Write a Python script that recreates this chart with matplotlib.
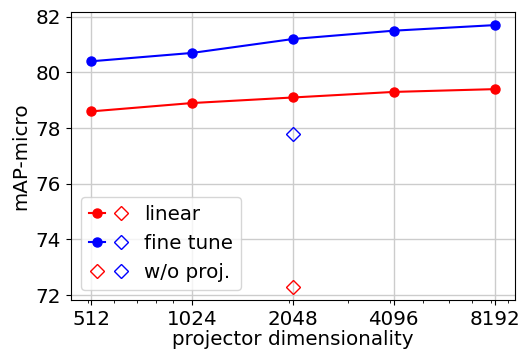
import matplotlib
matplotlib.use('Agg')
import matplotlib.pyplot as plt
from matplotlib.legend_handler import HandlerTuple
from matplotlib.ticker import LogLocator, NullFormatter

dims = [512, 1024, 2048, 4096, 8192]
linear = [78.6, 78.9, 79.1, 79.3, 79.4]
finetune = [80.4, 80.7, 81.2, 81.5, 81.7]
noproj_dim = 2048
noproj_linear = 72.3
noproj_finetune = 77.8

plt.rcParams['font.size'] = 14.3

fig, ax = plt.subplots(figsize=(5.21, 3.54), dpi=100)
fig.subplots_adjust(left=0.136, right=0.988, top=0.966, bottom=0.153)

l1, = ax.plot(dims, linear, 'o-', color='red', ms=6.5, lw=1.5)
l2, = ax.plot(dims, finetune, 'o-', color='blue', ms=6.5, lw=1.5)
d1, = ax.plot([noproj_dim], [noproj_linear], 'D', mfc='none', mec='red', ms=7, mew=1.0)
d2, = ax.plot([noproj_dim], [noproj_finetune], 'D', mfc='none', mec='blue', ms=7, mew=1.0)

ax.set_xscale('log')
ax.set_xticks(dims)
ax.set_xticklabels([str(d) for d in dims])
ax.xaxis.set_minor_locator(LogLocator(base=10, subs=range(2, 10), numticks=20))
ax.xaxis.set_minor_formatter(NullFormatter())
ax.grid(True, color='#cccccc', lw=1)
ax.set_axisbelow(True)
ax.set_xlabel('projector dimensionality', labelpad=1)
ax.set_ylabel('mAP-micro')

ax.legend([(l1, d1), (l2, d2), (d1, d2)], ['linear', 'fine tune', 'w/o proj.'],
          handler_map={tuple: HandlerTuple(ndivide=None)},
          loc='lower left', handlelength=2.0)

fig.savefig('out.png')
